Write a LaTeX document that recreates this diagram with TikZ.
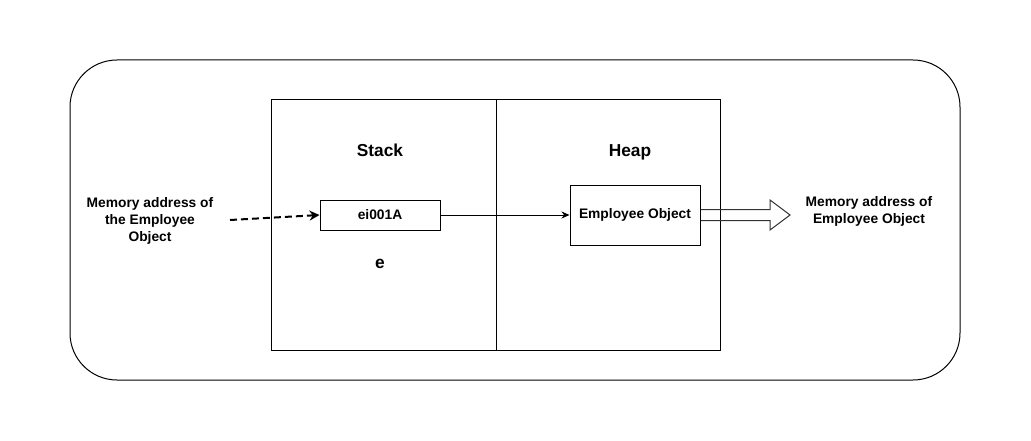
\documentclass[tikz,border=0pt]{standalone}
\usepackage{fontspec}
\setmainfont{Liberation Sans}
\usetikzlibrary{arrows.meta,calc}

\begin{document}
\begin{tikzpicture}[x=1pt,y=-1pt,line width=1pt,
	main box/.style={rectangle,draw,inner sep=0pt},
	label text/.style={font=\bfseries\fontsize{13.8}{17}\selectfont,align=center},
	title text/.style={font=\bfseries\fontsize{17.3}{20}\selectfont,anchor=base}]
	
	\useasboundingbox (0,0) rectangle (1031,441);
	\draw[rounded corners=47pt] (70,60) rectangle (960,380);
	
	\node[main box,minimum width=225pt,minimum height=250pt] (stack) at (383.5,225) {};
	\node[main box,minimum width=224pt,minimum height=250pt] (heap) at (608,225) {};
	\node[title text] (stacktitle) at (380,157) {Stack};
	\node[title text] (heaptitle) at (630,157) {Heap};
	\node[title text] (var) at (380,268) {e};
	
	\node[main box,label text,minimum width=120pt,minimum height=30pt] (ref) at (380,215) {ei001A};
	\node[main box,label text,minimum width=130pt,minimum height=60pt] (obj) at (635,215) {Employee Object};
	
	\node[label text] (src) at (150,221) {Memory address of\\the Employee\\Object};
	\node[label text] (addr) at (869,211) {Memory address of\\Employee Object};
	\coordinate (dashstart) at (230,220);
	\coordinate (tip) at (790,215);
	
	\draw[line width=2pt,dash pattern=on 7pt off 4pt,-{Stealth[length=10pt,width=10pt]}] (dashstart) -- (ref.west);
	\draw[-{Stealth[length=8pt,width=7pt]}] (ref) -- (obj);
	\draw[black!80] ($(obj.east)+(0,-5.5)$) -- ($(tip)+(-20,-5.5)$) -- ($(tip)+(-20,-15)$) -- (tip)
		-- ($(tip)+(-20,15)$) -- ($(tip)+(-20,5.5)$) -- ($(obj.east)+(0,5.5)$);
\end{tikzpicture}
\end{document}
